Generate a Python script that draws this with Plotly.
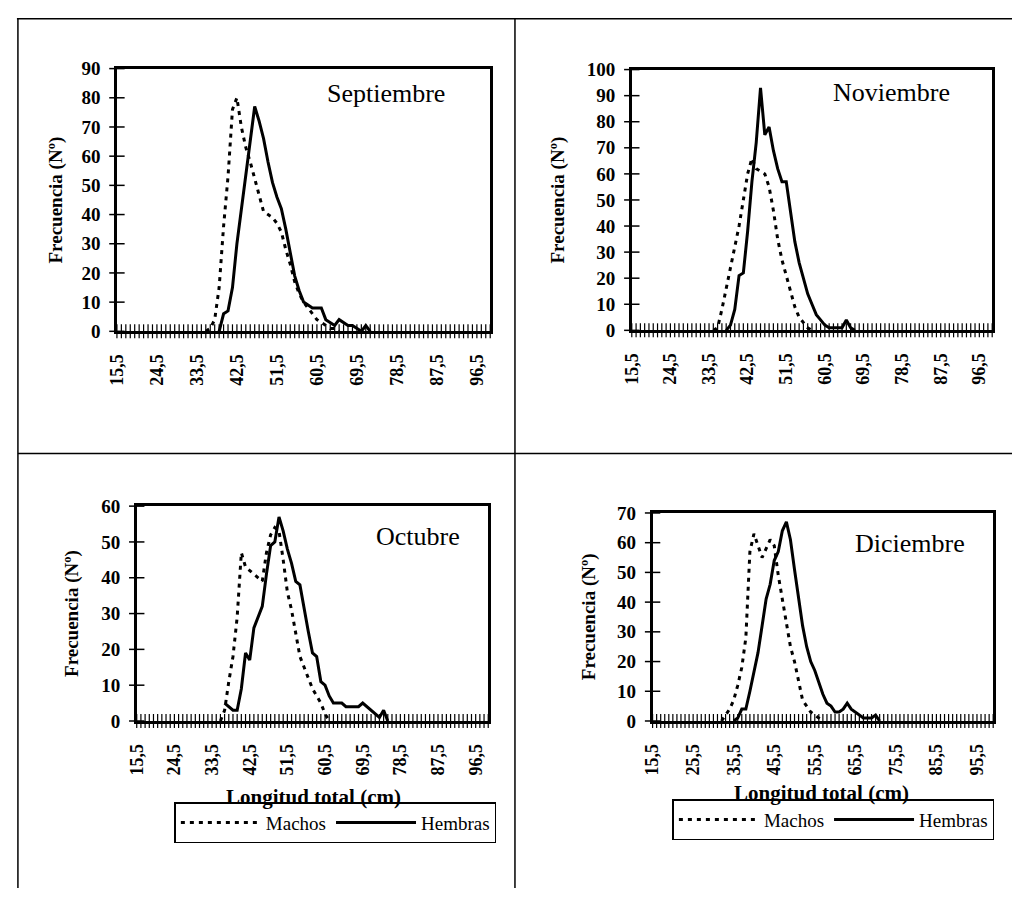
import numpy as np
import plotly.graph_objects as go

# ---------------- data ----------------
CATEGORIES = [float(v) for v in np.arange(15.5, 100.0, 1.0)]  # length classes (cm)

TICKVALS_A = [15.5, 24.5, 33.5, 42.5, 51.5, 60.5, 69.5, 78.5, 87.5, 96.5]
TICKTEXT_A = ["15,5", "24,5", "33,5", "42,5", "51,5", "60,5", "69,5", "78,5", "87,5", "96,5"]
TICKVALS_B = [15.5, 25.5, 35.5, 45.5, 55.5, 65.5, 75.5, 85.5, 95.5]
TICKTEXT_B = ["15,5", "25,5", "35,5", "45,5", "55,5", "65,5", "75,5", "85,5", "95,5"]

MONTHS = ["Septiembre", "Noviembre", "Octubre", "Diciembre"]
YMAX = [90, 100, 60, 70]

# each series: first length class, then frequencies per 1-cm class
SEP_MACHOS_START = 35.5
SEP_MACHOS = [0, 1, 4, 15, 36, 53, 76, 80, 70, 63, 58, 52, 46, 41, 40, 39, 37, 34, 28,
              23, 17, 13, 10, 8, 6, 4, 3, 2, 1, 1, 0]
SEP_HEMBRAS_START = 38.5
SEP_HEMBRAS = [0, 6, 7, 15, 30, 42, 53, 64, 77, 72, 66, 58, 51, 46, 42, 35, 27, 19, 14,
               10, 9, 8, 8, 8, 4, 3, 2, 4, 3, 2, 2, 1, 0, 2, 0]

NOV_MACHOS_START = 34.5
NOV_MACHOS = [0, 1, 8, 16, 24, 31, 40, 50, 60, 66, 62, 61, 60, 55, 46, 35, 27, 21, 15,
              9, 5, 3, 1, 0]
NOV_HEMBRAS_START = 37.5
NOV_HEMBRAS = [0, 2, 8, 21, 22, 38, 57, 72, 93, 75, 78, 69, 62, 57, 57, 45, 34, 26, 20,
               14, 10, 6, 4, 2, 1, 1, 1, 1, 4, 1, 0]

OCT_MACHOS_START = 35.5
OCT_MACHOS = [0, 3, 11, 18, 29, 47, 43, 42, 41, 40, 39, 47, 52, 54, 53, 45, 36, 31, 24,
              18, 15, 12, 9, 7, 5, 2, 0]
OCT_HEMBRAS_START = 36.5
OCT_HEMBRAS = [5, 4, 3, 3, 9, 19, 17, 26, 29, 32, 41, 49, 50, 57, 53, 48, 44, 39, 38,
               31, 25, 19, 18, 11, 10, 7, 5, 5, 5, 4, 4, 4, 4, 5, 4, 3, 2, 1, 3, 0]

DIC_MACHOS_START = 32.5
DIC_MACHOS = [0, 2, 4, 7, 12, 18, 28, 57, 63, 59, 55, 58, 61, 59, 49, 41, 33, 25, 20,
              13, 7, 5, 3, 2, 1, 0]
DIC_HEMBRAS_START = 35.5
DIC_HEMBRAS = [0, 1, 4, 4, 10, 17, 23, 32, 41, 46, 54, 57, 64, 67, 61, 51, 41, 32, 25,
               20, 17, 13, 9, 6, 5, 3, 3, 4, 6, 4, 3, 2, 1, 1, 1, 2, 0]

SERIES = [
    (SEP_MACHOS_START, SEP_MACHOS, SEP_HEMBRAS_START, SEP_HEMBRAS),
    (NOV_MACHOS_START, NOV_MACHOS, NOV_HEMBRAS_START, NOV_HEMBRAS),
    (OCT_MACHOS_START, OCT_MACHOS, OCT_HEMBRAS_START, OCT_HEMBRAS),
    (DIC_MACHOS_START, DIC_MACHOS, DIC_HEMBRAS_START, DIC_HEMBRAS),
]

# ---------------- layout geometry (pixels) ----------------
W, H = 1012, 899
PANELS = [  # left, right, top, bottom
    (108, 485, 60, 329),
    (628, 992, 61, 328),
    (128, 483, 508, 728),
    (649, 993, 515, 728),
]
TITLE_POS = [(380, 85), (890, 84), (412, 539), (909, 546)]
YTITLE_X = [46, 553, 62, 585]

SERIF = "Liberation Serif, Times New Roman, Times, serif"


def px(x):
    return x / W


def py(y):
    return 1 - y / H


fig = go.Figure()

for i, (ms, mv, hs, hv) in enumerate(SERIES):
    n = i + 1
    xa = "x" if n == 1 else f"x{n}"
    ya = "y" if n == 1 else f"y{n}"
    leg = "legend" if n == 3 else ("legend2" if n == 4 else None)
    show = leg is not None
    # crossing category ticks on x axis
    fig.add_trace(go.Scatter(
        x=CATEGORIES, y=[0] * len(CATEGORIES), mode="markers", xaxis=xa, yaxis=ya,
        marker=dict(symbol="line-ns", size=10, line=dict(width=1.2, color="black")),
        cliponaxis=False, showlegend=False, hoverinfo="skip"))
    yt = list(range(0, YMAX[i] + 1, 10))
    fig.add_trace(go.Scatter(
        x=[15.5] * len(yt), y=yt, mode="markers", xaxis=xa, yaxis=ya,
        marker=dict(symbol="line-ew", size=11, line=dict(width=1.5, color="black")),
        cliponaxis=False, showlegend=False, hoverinfo="skip"))
    kw_m = dict(legend=leg) if leg else {}
    fig.add_trace(go.Scatter(
        x=[ms + k for k in range(len(mv))], y=mv, mode="lines", name="Machos",
        xaxis=xa, yaxis=ya, line=dict(color="black", width=3, dash="4px,5px"),
        showlegend=show, **kw_m))
    fig.add_trace(go.Scatter(
        x=[hs + k for k in range(len(hv))], y=hv, mode="lines", name="Hembras",
        xaxis=xa, yaxis=ya, line=dict(color="black", width=3),
        showlegend=show, **kw_m))

    l, r, t, b = PANELS[i]
    axis_common = dict(showline=True, linewidth=2.5, linecolor="black", mirror=True,
                       showgrid=False, zeroline=False)
    tv, tt = (TICKVALS_B, TICKTEXT_B) if n == 4 else (TICKVALS_A, TICKTEXT_A)
    fig.update_layout(**{
        ("xaxis" if n == 1 else f"xaxis{n}"): dict(
            domain=[px(l), px(r)], range=[15.5, 99.5], anchor=ya,
            tickvals=tv, ticktext=tt, tickangle=-90, ticks="",
            ticklabelstandoff=13,
            tickfont=dict(family=SERIF, size=18, color="black", weight="bold"),
            **axis_common),
        ("yaxis" if n == 1 else f"yaxis{n}"): dict(
            domain=[py(b), py(t)], range=[0, YMAX[i]], anchor=xa,
            tickvals=yt, ticks="", ticklabelstandoff=10,
            tickfont=dict(family=SERIF, size=19, color="black", weight="bold"),
            **axis_common),
    })
    tx, ty = TITLE_POS[i]
    fig.add_annotation(x=px(tx), y=py(ty), xref="paper", yref="paper", text=MONTHS[i],
                       xanchor="center", yanchor="middle",
                       showarrow=False, font=dict(family=SERIF, size=26, color="black"))
    fig.add_annotation(x=px(YTITLE_X[i]), y=py((t + b) / 2), xref="paper", yref="paper",
                       text="Frecuencia (Nº)", textangle=-90, showarrow=False,
                       xanchor="center", yanchor="middle",
                       font=dict(family=SERIF, size=19, color="black", weight="bold"))

# x-axis titles (bottom row)
for cx, cy in [(307, 806), (820, 802)]:
    fig.add_annotation(x=px(cx), y=py(cy), xref="paper", yref="paper",
                       text="Longitud total (cm)", showarrow=False,
                       xanchor="center", yanchor="middle",
                       font=dict(family=SERIF, size=21, color="black", weight="bold"))

legend_common = dict(orientation="h", xanchor="left", yanchor="top",
                     bgcolor="rgba(255,255,255,0)", bordercolor="black", borderwidth=1.5,
                     font=dict(family=SERIF, size=19, color="black"), itemwidth=80,
                     tracegroupgap=0)
fig.update_layout(
    legend=dict(x=px(166), y=py(811), **legend_common),
    legend2=dict(x=px(669), y=py(808), **legend_common),
)

# page frame lines
frame = [
    (7, 9, W, 9), (8, 9, 8, H), (510, 9, 510, H), (8, 454, W, 454),
]
for x0, y0, x1, y1 in frame:
    fig.add_shape(type="line", xref="paper", yref="paper", x0=px(x0), y0=py(y0),
                  x1=px(x1), y1=py(y1), line=dict(color="black", width=1.5))

fig.update_layout(width=W, height=H, margin=dict(l=0, r=0, t=0, b=0),
                  paper_bgcolor="white", plot_bgcolor="white")

fig.write_html("out.html")
